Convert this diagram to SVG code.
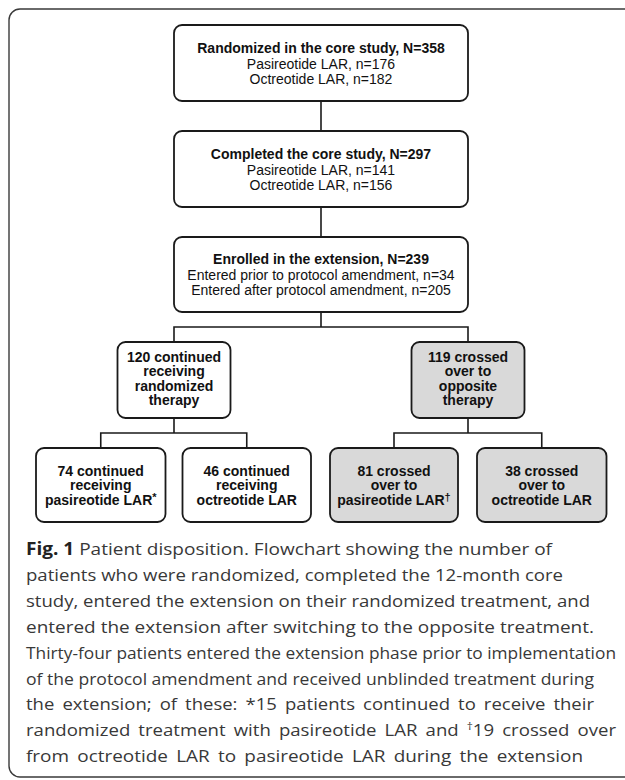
<svg xmlns="http://www.w3.org/2000/svg" width="625" height="780" viewBox="0 0 625 780">
<style>
.frame{fill:#fff;stroke:#3a3a3a;stroke-width:1.4}
.box{fill:#fff;stroke:#1a1a1a;stroke-width:1.8}
.gray{fill:#d9d9d9}
.conn{fill:none;stroke:#1a1a1a;stroke-width:1.6}
.t{font-family:"Liberation Sans",Arial,Helvetica,sans-serif;font-size:14px;fill:#111;text-anchor:middle}
.b{font-weight:bold}
.cap{font-family:"Open Sans","Liberation Sans",Arial,sans-serif;font-size:17px;fill:#383838}
.capb{font-weight:bold;fill:#222}
.sup{font-size:11px}
</style>
<rect width="625" height="780" fill="#fff"/>
<rect class="frame" x="9" y="9" width="640" height="768" rx="11"/>

<g id="connectors" class="conn">
<path d="M321 101V131"/>
<path d="M321 207V237"/>
<path d="M321 312V327M174 342V327H468V342"/>
<path d="M174 418V433M100.75 448V433H246.75V448"/>
<path d="M468 418V433M394 448V433H541.75V448"/>
</g>

<g id="n1">
<rect class="box" x="174" y="25" width="294" height="76" rx="8"/>
<text class="t b" x="321" y="53">Randomized in the core study, N=358</text>
<text class="t" x="321" y="68.5">Pasireotide LAR, n=176</text>
<text class="t" x="321" y="84">Octreotide LAR, n=182</text>
</g>

<g id="n2">
<rect class="box" x="174" y="131" width="294" height="76" rx="8"/>
<text class="t b" x="321" y="159">Completed the core study, N=297</text>
<text class="t" x="321" y="174.5">Pasireotide LAR, n=141</text>
<text class="t" x="321" y="190">Octreotide LAR, n=156</text>
</g>

<g id="n3">
<rect class="box" x="174" y="237" width="294" height="75" rx="8"/>
<text class="t b" x="321" y="264">Enrolled in the extension, N=239</text>
<text class="t" x="321" y="279.5">Entered prior to protocol amendment, n=34</text>
<text class="t" x="321" y="295">Entered after protocol amendment, n=205</text>
</g>

<g id="n4">
<rect class="box" x="117.5" y="342" width="113" height="76" rx="8"/>
<text class="t b" x="174" y="361.5">120 continued</text>
<text class="t b" x="174" y="376">receiving</text>
<text class="t b" x="174" y="390.5">randomized</text>
<text class="t b" x="174" y="405">therapy</text>
</g>

<g id="n5">
<rect class="box gray" x="411.5" y="342" width="113" height="76" rx="8"/>
<text class="t b" x="468" y="361.5">119 crossed</text>
<text class="t b" x="468" y="376">over to</text>
<text class="t b" x="468" y="390.5">opposite</text>
<text class="t b" x="468" y="405">therapy</text>
</g>

<g id="n6">
<rect class="box" x="36" y="448" width="129.5" height="74" rx="8"/>
<text class="t b" x="100.75" y="475.5">74 continued</text>
<text class="t b" x="100.75" y="490">receiving</text>
<text class="t b" x="100.75" y="504.5">pasireotide LAR<tspan class="sup" dy="-4">*</tspan></text>
</g>

<g id="n7">
<rect class="box" x="182.5" y="448" width="128.5" height="74" rx="8"/>
<text class="t b" x="246.75" y="475.5">46 continued</text>
<text class="t b" x="246.75" y="490">receiving</text>
<text class="t b" x="246.75" y="504.5">octreotide LAR</text>
</g>

<g id="n8">
<rect class="box gray" x="330" y="448" width="128" height="74" rx="8"/>
<text class="t b" x="394" y="475.5">81 crossed</text>
<text class="t b" x="394" y="490">over to</text>
<text class="t b" x="394" y="504.5">pasireotide LAR<tspan class="sup" dy="-4">†</tspan></text>
</g>

<g id="n9">
<rect class="box gray" x="477" y="448" width="129.5" height="74" rx="8"/>
<text class="t b" x="541.75" y="475.5">38 crossed</text>
<text class="t b" x="541.75" y="490">over to</text>
<text class="t b" x="541.75" y="504.5">octreotide LAR</text>
</g>

<g id="caption">
<text class="cap" x="26" y="555" textLength="526" lengthAdjust="spacingAndGlyphs"><tspan class="capb">Fig. 1</tspan> Patient disposition. Flowchart showing the number of</text>
<text class="cap" x="26" y="580.9" textLength="537" lengthAdjust="spacingAndGlyphs">patients who were randomized, completed the 12-month core</text>
<text class="cap" x="26" y="606.8" textLength="564" lengthAdjust="spacingAndGlyphs">study, entered the extension on their randomized treatment, and</text>
<text class="cap" x="26" y="632.7" textLength="568" lengthAdjust="spacingAndGlyphs">entered the extension after switching to the opposite treatment.</text>
<text class="cap" x="26" y="658.6" textLength="590" lengthAdjust="spacingAndGlyphs">Thirty-four patients entered the extension phase prior to implementation</text>
<text class="cap" x="26" y="684.5" textLength="568" lengthAdjust="spacingAndGlyphs">of the protocol amendment and received unblinded treatment during</text>
<text class="cap" x="26" y="710.4" textLength="568" lengthAdjust="spacingAndGlyphs" word-spacing="3">the extension; of these: *15 patients continued to receive their</text>
<text class="cap" x="26" y="736.3" textLength="590" lengthAdjust="spacingAndGlyphs" word-spacing="3">randomized treatment with pasireotide LAR and <tspan font-size="11" dy="-6">†</tspan><tspan dy="6">19 crossed over</tspan></text>
<text class="cap" x="26" y="762.2" textLength="557" lengthAdjust="spacingAndGlyphs" word-spacing="3">from octreotide LAR to pasireotide LAR during the extension</text>
</g>
</svg>
